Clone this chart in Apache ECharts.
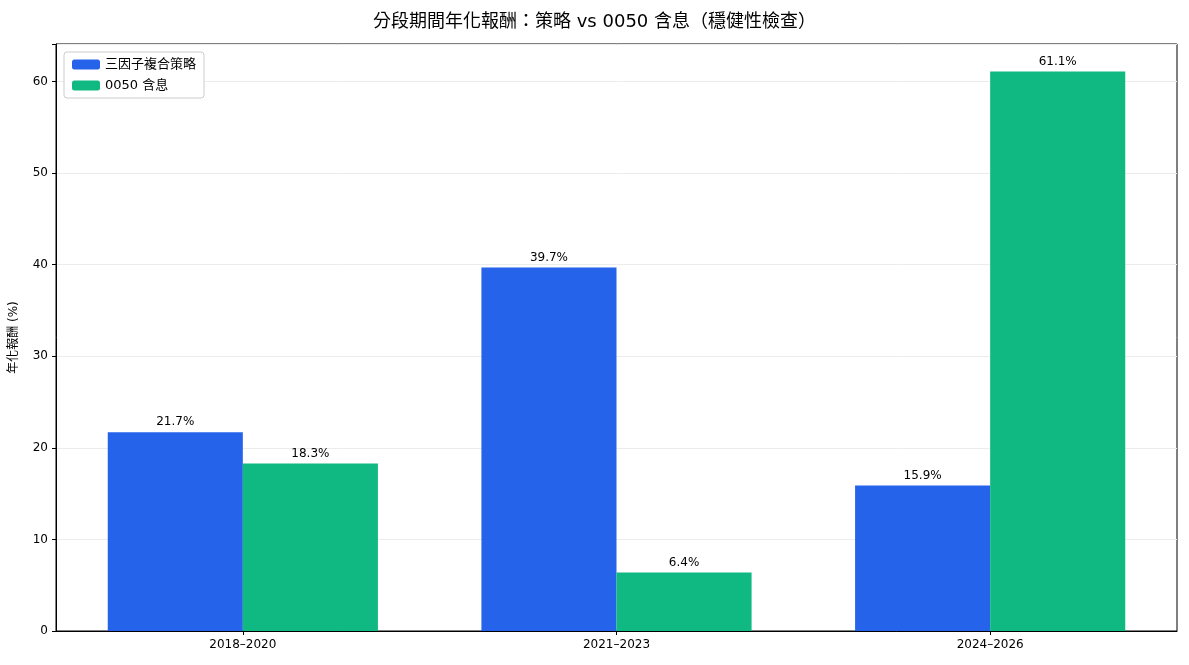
<!DOCTYPE html>
<html><head><meta charset="utf-8">
<script src="https://cdn.jsdelivr.net/npm/echarts@6/dist/echarts.min.js"></script>
<style>html,body{margin:0;padding:0;background:#fff}#c{width:1189px;height:665px}</style>
</head><body><div id="c"></div>
<script>
const categories = ['2018–2020', '2021–2023', '2024–2026'];
const strategy = [21.7, 39.7, 15.9];
const etf = [18.3, 6.4, 61.1];
const seriesNames = ['三因子複合策略', '0050 含息'];
const yTicks = [0, 10, 20, 30, 40, 50, 60];
const F = '"DejaVu Sans","Noto Sans CJK TC",sans-serif';
const chart = echarts.init(document.getElementById('c'));
const lbl = {show: true, position: 'top', formatter: p => p.value.toFixed(1) + '%', color: '#000', fontSize: 12, fontFamily: F, distance: 4};
chart.setOption({
  animation: false,
  title: {text: '分段期間年化報酬：策略 vs 0050 含息（穩健性檢查）', left: 'center', top: 8,
    textStyle: {fontSize: 18, fontWeight: 'normal', color: '#000', fontFamily: F}},
  grid: {left: 56, right: 12, top: 44, bottom: 34, show: true, borderColor: '#000', borderWidth: 1},
  legend: {left: 64, top: 52, orient: 'vertical', itemWidth: 28, itemHeight: 10, itemGap: 8,
    borderColor: '#ccc', borderWidth: 1, borderRadius: 3, padding: [6, 8], backgroundColor: '#fff',
    textStyle: {fontSize: 13, fontFamily: F, color: '#000'}, data: seriesNames},
  xAxis: {type: 'category', data: categories, axisTick: {show: true, alignWithLabel: true, length: 4, lineStyle: {color: '#000'}},
    axisLine: {lineStyle: {color: '#000'}}, axisLabel: {color: '#000', fontSize: 12, fontFamily: F}},
  yAxis: {type: 'value', min: 0, max: 64.1, interval: 10, name: '年化報酬 (%)', nameLocation: 'middle', nameGap: 36,
    nameTextStyle: {fontSize: 12, fontFamily: F, color: '#000'},
    axisLine: {show: true, lineStyle: {color: '#000'}}, axisTick: {show: true, length: 4, lineStyle: {color: '#000'}},
    axisLabel: {color: '#000', fontSize: 12, fontFamily: F, formatter: v => yTicks.includes(v) ? String(v) : ''},
    splitLine: {lineStyle: {color: '#ececec'}}},
  series: [
    {name: seriesNames[0], type: 'bar', data: strategy, barGap: '0%', barCategoryGap: '27.7%', itemStyle: {color: '#2563eb'}, label: lbl},
    {name: seriesNames[1], type: 'bar', data: etf, itemStyle: {color: '#10b981'}, label: lbl}
  ]
});
</script></body></html>
